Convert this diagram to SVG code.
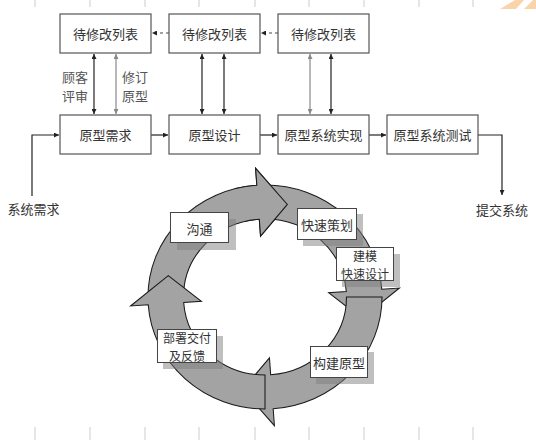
<svg xmlns="http://www.w3.org/2000/svg" xmlns:xlink="http://www.w3.org/1999/xlink" width="536" height="447" viewBox="0 0 536 447">
<style>
  .box { fill: #fff; stroke: #555; stroke-width: 1.2; }
  .t { font-family: "Noto Sans CJK SC", "Noto Sans CJK JP", sans-serif; font-size: 13px; fill: #333; text-anchor: middle; dominant-baseline: central; }
  .t2 { font-family: "Noto Sans CJK SC", "Noto Sans CJK JP", sans-serif; font-size: 12px; fill: #333; text-anchor: middle; dominant-baseline: central; }
  .lbl { font-family: "Noto Sans CJK SC", "Noto Sans CJK JP", sans-serif; font-size: 13px; fill: #555; text-anchor: middle; dominant-baseline: central; }
  .ln { fill: none; stroke: #222; stroke-width: 1.2; }
  .lng { fill: none; stroke: #888; stroke-width: 1.2; }
  .dash { fill: none; stroke: #444; stroke-width: 1; stroke-dasharray: 3 3; }
  .ring { fill: #a3a3a3; stroke: #1a1a1a; stroke-width: 1; }
  .rbox { fill: #fff; stroke: #444; stroke-width: 1; }
  .shadow { fill: #808080; opacity: 0.5; }
  .tick { stroke: #e6e6e6; stroke-width: 2; }
</style>
<defs>
  <marker id="ah" viewBox="0 0 10 10" refX="10" refY="5" markerWidth="6" markerHeight="5" markerUnits="userSpaceOnUse" orient="auto-start-reverse">
    <path d="M0,0 L10,5 L0,10 z" fill="#222"/>
  </marker>
  <marker id="ahg" viewBox="0 0 10 10" refX="10" refY="5" markerWidth="6" markerHeight="5" markerUnits="userSpaceOnUse" orient="auto-start-reverse">
    <path d="M0,0 L10,5 L0,10 z" fill="#888"/>
  </marker>
  <path id="arc" d="M -112,0 A 112 112 0 0 1 -7.81,-111.73 L -9.00,-128.69 L 21.37,-92.57 L -4.26,-60.85 L -5.44,-77.81 A 78 78 0 0 0 -78,0 Z"/>
  <clipPath id="headclip">
    <polygon points="0,0 -51.8,-193.2 0,-220 84.5,-181.3"/>
  </clipPath>
</defs>

<!-- background tick marks -->
<g id="ticks">
  <line class="tick" x1="35" y1="0" x2="35" y2="7"/><line class="tick" x1="90" y1="0" x2="90" y2="7"/>
  <line class="tick" x1="145" y1="0" x2="145" y2="7"/><line class="tick" x1="199" y1="0" x2="199" y2="7"/>
  <line class="tick" x1="255" y1="0" x2="255" y2="7"/><line class="tick" x1="309" y1="0" x2="309" y2="7"/>
  <line class="tick" x1="364" y1="0" x2="364" y2="7"/><line class="tick" x1="419" y1="0" x2="419" y2="7"/>
  <line class="tick" x1="473" y1="0" x2="473" y2="7"/>
  <line class="tick" x1="35" y1="427" x2="35" y2="440"/><line class="tick" x1="90" y1="427" x2="90" y2="440"/>
  <line class="tick" x1="145" y1="427" x2="145" y2="440"/><line class="tick" x1="199" y1="427" x2="199" y2="440"/>
  <line class="tick" x1="255" y1="427" x2="255" y2="440"/><line class="tick" x1="309" y1="427" x2="309" y2="440"/>
  <line class="tick" x1="364" y1="427" x2="364" y2="440"/><line class="tick" x1="419" y1="427" x2="419" y2="440"/>
  <line class="tick" x1="473" y1="427" x2="473" y2="440"/>
  <path d="M500,9 L515,0 L524,0 L516,9 Z M524,9 L533,0 L536,0 L536,9 Z" fill="#fbd3a8"/>
</g>

<!-- cycle ring -->
<g id="cycle" transform="translate(265,297) scale(1.045,1)">
  <use xlink:href="#arc" class="ring"/>
  <use xlink:href="#arc" class="ring" transform="rotate(90)"/>
  <use xlink:href="#arc" class="ring" transform="rotate(180)"/>
  <use xlink:href="#arc" class="ring" transform="rotate(270)"/>
  <use xlink:href="#arc" class="ring" clip-path="url(#headclip)"/>
</g>

<!-- connectors -->
<g id="connectors">
  <line class="dash" x1="169" y1="33" x2="152" y2="33" marker-end="url(#ah)"/>
  <line class="dash" x1="278" y1="33" x2="261" y2="33" marker-end="url(#ah)"/>
  <line class="ln" x1="94" y1="54" x2="94" y2="114" marker-start="url(#ah)" marker-end="url(#ah)"/>
  <line class="lng" x1="116" y1="54" x2="116" y2="114" marker-start="url(#ahg)" marker-end="url(#ahg)"/>
  <line class="ln" x1="202" y1="54" x2="202" y2="114" marker-start="url(#ah)" marker-end="url(#ah)"/>
  <line class="ln" x1="224" y1="54" x2="224" y2="114" marker-start="url(#ah)" marker-end="url(#ah)"/>
  <line class="lng" x1="310" y1="54" x2="310" y2="114" marker-start="url(#ahg)" marker-end="url(#ahg)"/>
  <line class="ln" x1="331" y1="54" x2="331" y2="114" marker-start="url(#ah)" marker-end="url(#ah)"/>
  <line class="ln" x1="151" y1="135" x2="168" y2="135" marker-end="url(#ah)"/>
  <line class="ln" x1="260" y1="135" x2="277" y2="135" marker-end="url(#ah)"/>
  <line class="ln" x1="369" y1="135" x2="386" y2="135" marker-end="url(#ah)"/>
  <polyline class="ln" points="32,196 32,135 59,135" marker-end="url(#ah)"/>
  <polyline class="ln" points="478,135 502,135 502,195" marker-end="url(#ah)"/>
</g>

<!-- top row -->
<g id="list1"><rect class="box" x="60" y="14" width="91" height="39"/><text class="t" x="105.5" y="33.5">待修改列表</text></g>
<g id="list2"><rect class="box" x="169" y="14" width="91" height="39"/><text class="t" x="214.5" y="33.5">待修改列表</text></g>
<g id="list3"><rect class="box" x="278" y="14" width="91" height="39"/><text class="t" x="323.5" y="33.5">待修改列表</text></g>

<!-- labels -->
<g id="label-review"><text class="lbl" x="75" y="76">顾客</text><text class="lbl" x="75" y="95">评审</text></g>
<g id="label-revise"><text class="lbl" x="135" y="76">修订</text><text class="lbl" x="135" y="95">原型</text></g>

<!-- bottom row -->
<g id="req"><rect class="box" x="60" y="115" width="91" height="39"/><text class="t" x="105.5" y="134.5">原型需求</text></g>
<g id="design"><rect class="box" x="169" y="115" width="91" height="39"/><text class="t" x="214.5" y="134.5">原型设计</text></g>
<g id="impl"><rect class="box" x="278" y="115" width="91" height="39"/><text class="t" x="323.5" y="134.5">原型系统实现</text></g>
<g id="test"><rect class="box" x="387" y="115" width="91" height="39"/><text class="t" x="432.5" y="134.5">原型系统测试</text></g>

<g id="input"><text class="t" x="33.5" y="208">系统需求</text></g>
<g id="output"><text class="t" x="502" y="209">提交系统</text></g>

<!-- ring nodes -->
<g id="communicate"><rect class="shadow" x="177" y="219" width="59" height="31"/><rect class="rbox" x="170.5" y="212.5" width="58" height="30"/><text class="t" x="199.5" y="228">沟通</text></g>
<g id="plan"><rect class="shadow" x="303" y="214" width="60" height="32"/><rect class="rbox" x="297.5" y="208.5" width="59" height="31"/><text class="t" x="327" y="224.5">快速策划</text></g>
<g id="model"><rect class="shadow" x="342" y="254" width="58" height="33"/><rect class="rbox" x="336.5" y="247.5" width="57" height="33"/><text class="t2" x="365" y="255.5">建模</text><text class="t2" x="365" y="273">快速设计</text></g>
<g id="build"><rect class="shadow" x="316" y="352" width="58" height="32"/><rect class="rbox" x="310.5" y="346.5" width="57" height="31"/><text class="t" x="339" y="362">构建原型</text></g>
<g id="deploy"><rect class="shadow" x="163" y="336" width="60" height="33"/><rect class="rbox" x="157.5" y="329.5" width="59" height="33"/><text class="t2" x="187" y="337.5">部署交付</text><text class="t2" x="187" y="355">及反馈</text></g>
</svg>
